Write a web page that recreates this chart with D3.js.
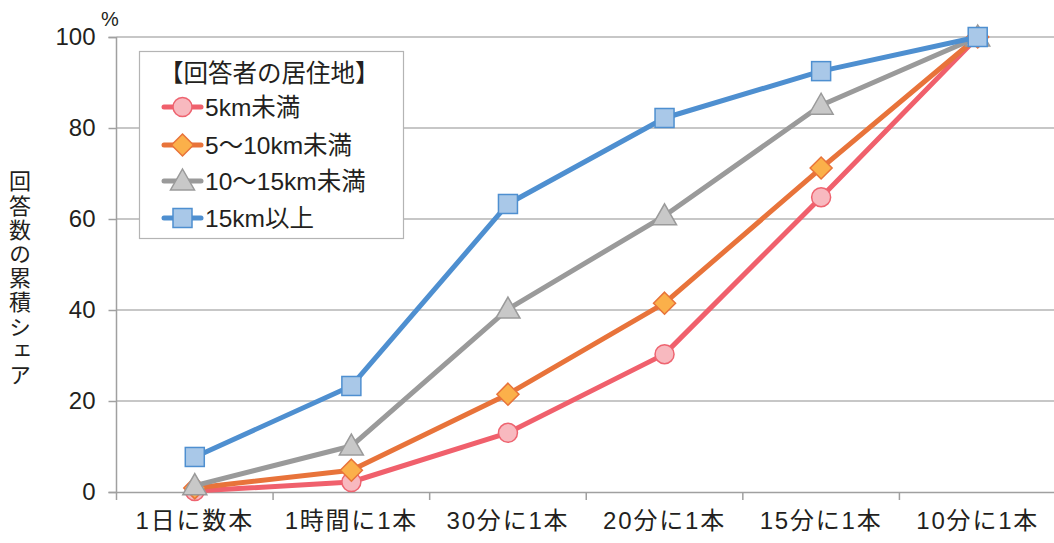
<!DOCTYPE html>
<html><head><meta charset="utf-8">
<script src="https://cdn.jsdelivr.net/npm/d3@7"></script>
<style>body{margin:0;background:#fff}svg{display:block}</style>
</head><body>
<svg id="c" width="1054" height="543"></svg>
<script>
const categories = ["1日に数本","1時間に1本","30分に1本","20分に1本","15分に1本","10分に1本"];
const seriesNames = ["5km未満","5〜10km未満","10〜15km未満","15km以上"];
const under5 = [0.2, 2.2, 13, 30.3, 64.8, 100];
const from5to10 = [0.9, 4.8, 21.5, 41.5, 71.2, 100];
const from10to15 = [1.4, 10.1, 40.2, 60.7, 85, 100];
const over15 = [7.7, 23.3, 63.3, 82.2, 92.5, 100];
const yTicks = [0, 20, 40, 60, 80, 100];
const legendTitle = "【回答者の居住地】";
const yLabel = "回答数の累積シェア";

const styles = [
  {line:"#f0606c", fill:"#f8b9bf", stroke:"#ee6470", shape:"circle"},
  {line:"#e8733a", fill:"#fbb04a", stroke:"#e8733a", shape:"diamond"},
  {line:"#9a9a9a", fill:"#c8c8c8", stroke:"#9a9a9a", shape:"triangle"},
  {line:"#4e8fd0", fill:"#a9c8e8", stroke:"#4e8fd0", shape:"square"}
];
const data = [under5, from5to10, from10to15, over15];
const font = "'Liberation Sans', 'Noto Sans CJK JP', sans-serif";
const textColor = "#231f20";

const svg = d3.select("#c");
const x = d3.scaleBand().domain(categories).range([116.5, 1056]);
const y = d3.scaleLinear().domain([0,100]).range([492, 37]);

// gridlines
svg.append("g").selectAll("line").data(yTicks.filter(d=>d>0)).join("line")
  .attr("x1",116.5).attr("x2",1054).attr("y1",d=>y(d)).attr("y2",d=>y(d))
  .attr("stroke","#b4b4b4").attr("stroke-width",1.5);

// y axis
const ya = svg.append("g").attr("transform","translate(116.5,0)")
  .call(d3.axisLeft(y).tickValues(yTicks).tickSize(8).tickPadding(13));
ya.select(".domain").attr("stroke","#a0a0a0").attr("stroke-width",1.5).attr("d","M-8,37.5H0V492.5H-8");
ya.selectAll(".tick line").attr("stroke","#a0a0a0").attr("stroke-width",1.5);
ya.selectAll(".tick text").attr("font-family",font).attr("font-size",24).attr("fill",textColor);

// x axis
const xa = svg.append("g").attr("transform","translate(0,492)")
  .call(d3.axisBottom(x).tickSize(0).tickPadding(20));
xa.select(".domain").attr("stroke","#a0a0a0").attr("stroke-width",1.5);
xa.selectAll(".tick text").attr("font-family",font).attr("font-size",24)
  .attr("letter-spacing",1.8).attr("fill",textColor);
svg.append("g").selectAll("line").data(categories.map((c,i)=>x(c)).concat([x.range()[1]])).join("line")
  .attr("x1",d=>d).attr("x2",d=>d).attr("y1",492).attr("y2",500)
  .attr("stroke","#a0a0a0").attr("stroke-width",1.5);

// % label
svg.append("text").attr("x",110).attr("y",26).attr("text-anchor","middle")
  .attr("font-family",font).attr("font-size",20).attr("fill",textColor).text("%");

// y label vertical
svg.append("text").attr("x",20).attr("y",170)
  .attr("font-family","'Noto Sans CJK JP', sans-serif").attr("font-size",22)
  .attr("letter-spacing",2.2)
  .style("writing-mode","vertical-rl").style("text-orientation","upright")
  .attr("fill",textColor).text(yLabel);

function marker(g, shape, st, cx, cy) {
  if (shape==="circle") g.append("circle").attr("cx",cx).attr("cy",cy).attr("r",9.5);
  else if (shape==="square") g.append("rect").attr("x",cx-9.5).attr("y",cy-9.5).attr("width",19).attr("height",19);
  else if (shape==="diamond") g.append("path").attr("d",`M${cx},${cy-11}L${cx+11},${cy}L${cx},${cy+11}L${cx-11},${cy}Z`);
  else if (shape==="triangle") g.append("path").attr("d",`M${cx},${cy-12}L${cx+12},${cy+9}L${cx-12},${cy+9}Z`);
  g.selectAll("*").attr("fill",st.fill).attr("stroke",st.stroke).attr("stroke-width",1.5);
}

const line = d3.line().x((d,i)=>x(categories[i])+x.bandwidth()/2).y(d=>y(d));
data.forEach((vals,si)=>{
  const st = styles[si];
  const g = svg.append("g");
  g.append("path").datum(vals).attr("d",line).attr("fill","none")
    .attr("stroke",st.line).attr("stroke-width",5).attr("stroke-linejoin","round");
  vals.forEach((v,i)=>marker(g.append("g"), st.shape, st, x(categories[i])+x.bandwidth()/2, y(v)));
});

// legend
const lg = svg.append("g");
lg.append("rect").attr("x",139.5).attr("y",51.5).attr("width",264).attr("height",187)
  .attr("fill","#fff").attr("stroke","#b4b4b4").attr("stroke-width",1.2);
lg.append("text").attr("x",159).attr("y",73).attr("dy","0.35em")
  .attr("font-family",font).attr("font-size",24.5).attr("fill",textColor).text(legendTitle);
const ly = [107, 145, 181, 218];
seriesNames.forEach((n,i)=>{
  const st = styles[i];
  const g = lg.append("g");
  g.append("line").attr("x1",164).attr("x2",201).attr("y1",ly[i]).attr("y2",ly[i])
    .attr("stroke",st.line).attr("stroke-width",5).attr("stroke-linecap","round");
  marker(g.append("g"), st.shape, st, 182.5, ly[i]);
  g.append("text").attr("x",205).attr("y",ly[i]).attr("dy","0.35em")
    .attr("font-family",font).attr("font-size",24.5).attr("fill",textColor).text(n);
});
</script>
</body></html>
